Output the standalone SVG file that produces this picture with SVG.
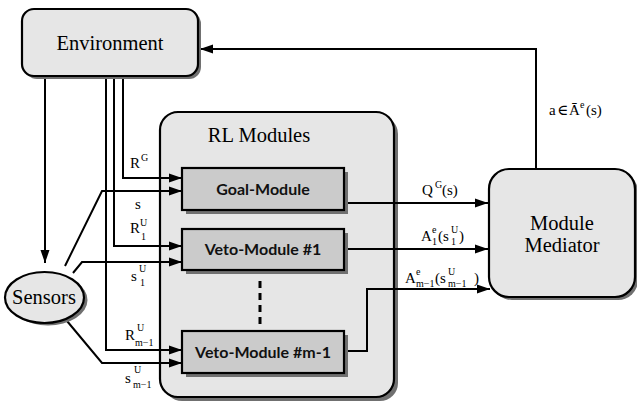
<svg xmlns="http://www.w3.org/2000/svg" width="637" height="401" viewBox="0 0 637 401">
  <style>
    .box { stroke: #000; stroke-width: 2.2; }
    .light { fill: #e6e6e6; }
    .mod { fill: #cbcbcb; }
    .shadow { fill: #707070; }
    .title { font-family: "Liberation Serif", "Times New Roman", Tinos, "Noto Serif", "DejaVu Serif", serif; font-size: 20.5px; fill: #000; }
    .modtxt { font-family: Lato, "Noto Sans", "DejaVu Sans", sans-serif; font-weight: bold; font-size: 16px; fill: #111; text-anchor: middle; }
    .lbl { font-family: "Liberation Serif", "Times New Roman", Tinos, "Noto Serif", "DejaVu Serif", serif; font-size: 15px; fill: #000; }
    .sm { font-size: 10px; }
    .wire { fill: none; stroke: #000; stroke-width: 2; }
  </style>
  <defs>
    <marker id="arrow" markerUnits="userSpaceOnUse" markerWidth="13" markerHeight="10" refX="13" refY="5" orient="auto">
      <path d="M0,0.5 L13,5 L0,9.5 Z" fill="#000"/>
    </marker>
  </defs>

  <rect width="637" height="401" fill="#fff"/>

  <!-- container for the learning modules -->
  <g id="rl-modules">
    <rect class="shadow" x="164" y="116" width="234" height="285" rx="18"/>
    <rect class="box light" x="160" y="112" width="234" height="285" rx="18"/>
    <text class="title" x="259" y="142" text-anchor="middle">RL Modules</text>
    <line x1="260" y1="281" x2="260" y2="324" stroke="#000" stroke-width="3" stroke-dasharray="7 5"/>
  </g>

  <!-- connectors -->
  <g id="connectors">
    <path class="wire" d="M536,170 V49 H200" marker-end="url(#arrow)"/>
    <path class="wire" d="M45,76 V263" marker-end="url(#arrow)"/>
    <path class="wire" d="M123,76 V178 H182" marker-end="url(#arrow)"/>
    <path class="wire" d="M114,76 V246 H182" marker-end="url(#arrow)"/>
    <path class="wire" d="M106,76 V350 H182" marker-end="url(#arrow)"/>
    <path class="wire" d="M65,266 L102,191 H182" marker-end="url(#arrow)"/>
    <path class="wire" d="M73,273 L82,262 H182" marker-end="url(#arrow)"/>
    <path class="wire" d="M67,321 L102,363 H182" marker-end="url(#arrow)"/>
    <path class="wire" d="M344,203 H488" marker-end="url(#arrow)"/>
    <path class="wire" d="M344,249 H488" marker-end="url(#arrow)"/>
    <path class="wire" d="M344,351 H367 V289 H490" marker-end="url(#arrow)"/>
  </g>

  <!-- connector labels -->
  <g id="labels">
    <text class="lbl" x="130" y="168">R<tspan class="sm" x="141" y="161">G</tspan></text>
    <text class="lbl" x="135" y="209">s</text>
    <text class="lbl" x="130" y="233">R<tspan class="sm" x="140" y="226">U</tspan><tspan class="sm" x="141" y="240">1</tspan></text>
    <text class="lbl" x="131" y="281">s<tspan class="sm" x="139" y="272">U</tspan><tspan class="sm" x="140" y="286">1</tspan></text>
    <text class="lbl" x="125" y="340">R<tspan class="sm" x="137" y="331">U</tspan><tspan class="sm" x="135" y="346">m−1</tspan></text>
    <text class="lbl" x="125" y="383">s<tspan class="sm" x="134" y="373">U</tspan><tspan class="sm" x="133" y="388">m−1</tspan></text>
    <text class="lbl" x="422" y="195">Q<tspan class="sm" x="435" y="188">G</tspan><tspan x="442" y="195">(s)</tspan></text>
    <text class="lbl" x="421" y="241">A<tspan class="sm" x="432" y="233">e</tspan><tspan class="sm" x="432" y="245">1</tspan><tspan x="438" y="241">(s</tspan><tspan class="sm" x="451" y="233">U</tspan><tspan class="sm" x="451" y="245">1</tspan><tspan x="459" y="241">)</tspan></text>
    <text class="lbl" x="405" y="283">A<tspan class="sm" x="416" y="275">e</tspan><tspan class="sm" x="416" y="287">m−1</tspan><tspan x="435" y="283">(s</tspan><tspan class="sm" x="448" y="275">U</tspan><tspan class="sm" x="448" y="287">m−1</tspan><tspan x="474" y="283">)</tspan></text>
    <text class="lbl" x="549" y="115">a<tspan x="557" y="115">∈</tspan><tspan x="569" y="115">Ā</tspan><tspan class="sm" x="580" y="108">e</tspan><tspan x="586" y="115">(s)</tspan></text>
  </g>

  <!-- learning modules -->
  <g id="goal-module">
    <rect class="shadow" x="186" y="172" width="162" height="42"/>
    <rect class="box mod" x="182" y="168" width="162" height="42"/>
    <text class="modtxt" x="263" y="195">Goal-Module</text>
  </g>
  <g id="veto-module-1">
    <rect class="shadow" x="186" y="233" width="162" height="41"/>
    <rect class="box mod" x="182" y="229" width="162" height="41"/>
    <text class="modtxt" x="263" y="255">Veto-Module #1</text>
  </g>
  <g id="veto-module-m-1">
    <rect class="shadow" x="186" y="335" width="162" height="42"/>
    <rect class="box mod" x="182" y="331" width="162" height="42"/>
    <text class="modtxt" x="263" y="358">Veto-Module #m-1</text>
  </g>

  <g id="environment">
    <rect class="shadow" x="25" y="12" width="176" height="67" rx="12"/>
    <rect class="box light" x="22" y="9" width="176" height="67" rx="12"/>
    <text class="title" x="110" y="50" text-anchor="middle">Environment</text>
  </g>

  <g id="sensors">
    <ellipse class="shadow" cx="48" cy="300" rx="39.5" ry="25.5"/>
    <ellipse class="box light" cx="44.5" cy="297.5" rx="39.5" ry="25.5"/>
    <text class="title" x="44" y="304" text-anchor="middle" font-size="19">Sensors</text>
  </g>

  <g id="module-mediator">
    <rect class="shadow" x="492" y="172" width="146" height="128" rx="20"/>
    <rect class="box light" x="489" y="169" width="146" height="128" rx="20"/>
    <text class="title" x="562" y="230" text-anchor="middle" font-size="20">Module</text>
    <text class="title" x="562" y="252" text-anchor="middle" font-size="20">Mediator</text>
  </g>
</svg>
